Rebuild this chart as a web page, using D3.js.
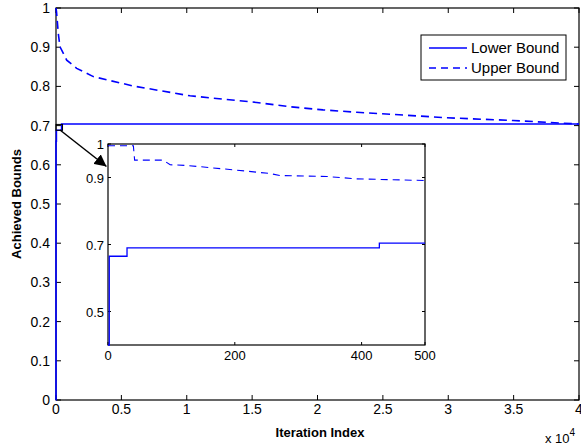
<!DOCTYPE html>
<meta charset="utf-8">
<script src="https://d3js.org/d3.v7.min.js"></script>
<style>
  body { margin: 0; background: #fff; }
  text { font-family: "Liberation Sans", Arial, sans-serif; }
</style>
<div id="main"></div>
<script>

var width = 581
var height = 448

// main curve: iteration index vs achieved bound
var lowerIter = [0, 1, 30, 430, 40000]
var lowerVal = [0, 0.66, 0.688, 0.704, 0.704]

var upperIter = [0, 40, 176, 306, 818, 1583, 2853, 5912, 10250, 15350, 17900, 20420, 23000, 25550, 29880, 34950, 40000]
var upperVal = [1, 0.99, 0.935, 0.901, 0.867, 0.846, 0.825, 0.801, 0.776, 0.759, 0.748, 0.740, 0.734, 0.729, 0.720, 0.713, 0.704]

// inset: first 500 iterations
var insetLowerIter = [0, 2, 30, 428, 500]
var insetLowerVal = [0.4, 0.665, 0.69, 0.704, 0.704]

var insetUpperIter = [0, 40, 42, 87, 98, 124, 197, 255, 271, 345, 392, 500]
var insetUpperVal = [0.995, 0.995, 0.952, 0.952, 0.938, 0.936, 0.923, 0.912, 0.906, 0.903, 0.896, 0.891]

var xTicks = [0, 0.5, 1, 1.5, 2, 2.5, 3, 3.5, 4]
var yTicks = [0, 0.1, 0.2, 0.3, 0.4, 0.5, 0.6, 0.7, 0.8, 0.9, 1]
var insetXTicks = [0, 200, 400, 500]
var insetYTicks = [0.5, 0.7, 0.9, 1]
var legendLabels = ["Lower Bound", "Upper Bound"]

var blue = "#0000ff"

var svg = d3.select("#main")
  .append("svg")
    .attr("width", width)
    .attr("height", height)

svg.append("defs").append("marker")
    .attr("id", "arrow")
    .attr("viewBox", "0 0 10 10")
    .attr("refX", 10).attr("refY", 5)
    .attr("markerWidth", 12).attr("markerHeight", 12)
    .attr("markerUnits", "userSpaceOnUse")
    .attr("orient", "auto")
  .append("path")
    .attr("d", "M0,0 L10,5 L0,10 z")
    .attr("fill", "#000")

// main axes
var x = d3.scaleLinear().domain([0, 40000]).range([56, 579])
var y = d3.scaleLinear().domain([0, 1]).range([400, 8])

function zip(a, b) { return a.map((d, i) => [d, b[i]]) }

var g = svg.append("g")

g.append("rect")
  .attr("x", 56).attr("y", 8).attr("width", 523).attr("height", 392)
  .attr("fill", "none").attr("stroke", "#000").attr("stroke-width", 1.2)

// ticks (inside, mirrored)
var tickLen = 5
xTicks.forEach(function(t) {
  var px = x(t * 10000)
  g.append("line").attr("x1", px).attr("x2", px).attr("y1", 400).attr("y2", 400 - tickLen).attr("stroke", "#000")
  g.append("line").attr("x1", px).attr("x2", px).attr("y1", 8).attr("y2", 8 + tickLen).attr("stroke", "#000")
  g.append("text").attr("x", px).attr("y", 414).attr("text-anchor", "middle")
    .attr("font-size", 14).text(t)
})
yTicks.forEach(function(t) {
  var py = y(t)
  g.append("line").attr("x1", 56).attr("x2", 56 + tickLen).attr("y1", py).attr("y2", py).attr("stroke", "#000")
  g.append("line").attr("x1", 579).attr("x2", 579 - tickLen).attr("y1", py).attr("y2", py).attr("stroke", "#000")
  g.append("text").attr("x", 50).attr("y", py + 5).attr("text-anchor", "end")
    .attr("font-size", 14).text(t)
})

var line = d3.line().x(d => x(d[0])).y(d => y(d[1]))

g.append("path")
  .attr("d", line.curve(d3.curveStepAfter)(zip(lowerIter, lowerVal)))
  .attr("fill", "none").attr("stroke", blue).attr("stroke-width", 1.6)

g.append("path")
  .attr("d", line.curve(d3.curveLinear)(zip(upperIter, upperVal)))
  .attr("fill", "none").attr("stroke", blue).attr("stroke-width", 1.6)
  .attr("stroke-dasharray", "8,5")

// zoom box + arrow
g.append("rect")
  .attr("x", x(0)).attr("y", y(0.703))
  .attr("width", x(500) - x(0)).attr("height", y(0.688) - y(0.703))
  .attr("fill", "none").attr("stroke", "#000").attr("stroke-width", 1)

// legend
var leg = svg.append("g")
leg.append("rect").attr("x", 421).attr("y", 35).attr("width", 145).attr("height", 45)
  .attr("fill", "#fff").attr("stroke", "#000").attr("stroke-width", 1)
legendLabels.forEach(function(lbl, i) {
  var ly = 48 + i * 20
  leg.append("line").attr("x1", 429).attr("x2", 467).attr("y1", ly).attr("y2", ly)
    .attr("stroke", blue).attr("stroke-width", 1.6)
    .attr("stroke-dasharray", i ? "7,5" : null)
  leg.append("text").attr("x", 471).attr("y", ly + 5).attr("font-size", 15).text(lbl)
})

// axis labels
svg.append("text").attr("x", 320).attr("y", 437).attr("text-anchor", "middle")
  .attr("font-size", 13).attr("font-weight", "bold").text("Iteration Index")
svg.append("text").attr("transform", "translate(21,204) rotate(-90)")
  .attr("text-anchor", "middle").attr("font-size", 13).attr("font-weight", "bold")
  .text("Achieved Bounds")
var ex = svg.append("text").attr("x", 545).attr("y", 443).attr("font-size", 13)
ex.append("tspan").text("x 10")
ex.append("tspan").attr("dy", -7).attr("font-size", 10).text("4")

// inset
var xi = d3.scaleLinear().domain([0, 500]).range([108, 425])
var yi = d3.scaleLinear().domain([0.4, 1]).range([345, 144])
var ig = svg.append("g")
ig.append("rect").attr("x", 108).attr("y", 144).attr("width", 317).attr("height", 201)
  .attr("fill", "#fff").attr("stroke", "#000").attr("stroke-width", 1.2)

var lineI = d3.line().x(d => xi(d[0])).y(d => yi(d[1]))

insetXTicks.forEach(function(t) {
  var px = xi(t)
  ig.append("line").attr("x1", px).attr("x2", px).attr("y1", 345).attr("y2", 342).attr("stroke", "#000")
  ig.append("line").attr("x1", px).attr("x2", px).attr("y1", 144).attr("y2", 147).attr("stroke", "#000")
  ig.append("text").attr("x", px).attr("y", 360).attr("text-anchor", "middle")
    .attr("font-size", 13).text(t)
})
insetYTicks.forEach(function(t) {
  var py = yi(t)
  ig.append("line").attr("x1", 108).attr("x2", 111).attr("y1", py).attr("y2", py).attr("stroke", "#000")
  ig.append("line").attr("x1", 425).attr("x2", 422).attr("y1", py).attr("y2", py).attr("stroke", "#000")
  ig.append("text").attr("x", 104).attr("y", py + 5).attr("text-anchor", "end")
    .attr("font-size", 13).text(t)
})

ig.append("path")
  .attr("d", lineI.curve(d3.curveStepAfter)(zip(insetLowerIter, insetLowerVal)))
  .attr("fill", "none").attr("stroke", blue).attr("stroke-width", 1.3)

ig.append("path")
  .attr("d", lineI.curve(d3.curveLinear)(zip(insetUpperIter, insetUpperVal)))
  .attr("fill", "none").attr("stroke", blue).attr("stroke-width", 1.1)
  .attr("stroke-dasharray", "7,5")

svg.append("line")
  .attr("x1", 60).attr("y1", 130).attr("x2", 106.5).attr("y2", 166.5)
  .attr("stroke", "#000").attr("stroke-width", 1.5)
  .attr("marker-end", "url(#arrow)")

</script>
